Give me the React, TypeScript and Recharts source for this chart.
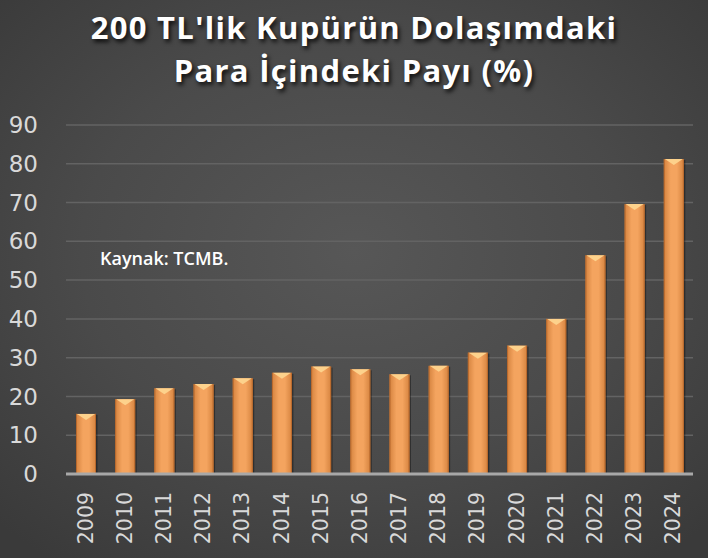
import React from "react";
import { BarChart, Bar, XAxis, YAxis, CartesianGrid } from "recharts";

const years = ["2009","2010","2011","2012","2013","2014","2015","2016","2017","2018","2019","2020","2021","2022","2023","2024"];
const shares = [15.5, 19.3, 22.1, 23.2, 24.7, 26.1, 27.7, 27.0, 25.7, 27.9, 31.3, 33.1, 40.0, 56.4, 69.6, 81.2];
const yTicks = [0, 10, 20, 30, 40, 50, 60, 70, 80, 90];
const titleLines = ["200 TL'lik Kupürün Dolaşımdaki", "Para İçindeki Payı (%)"];
const sourceNote = "Kaynak: TCMB.";

const data = years.map((y, i) => ({ year: y, value: shares[i] }));

const BevelBar = (props: any) => {
  const { x, y, width, height } = props;
  if (!height || height <= 0) return null;
  return (
    <g>
      <rect x={x + 1.5} y={y + 1} width={width} height={height - 1} fill="rgba(0,0,0,0.35)" />
      <rect x={x} y={y} width={width} height={height} fill="url(#barGrad)" />
      <polygon
        points={`${x + 1},${y} ${x + width - 1},${y} ${x + width / 2},${y + 6}`}
        fill="#fdd28c"
      />
      <rect x={x} y={y} width={1} height={height} fill="#b8692d" />
      <rect x={x + width - 1} y={y} width={1} height={height} fill="#b8692d" />
    </g>
  );
};

const XTick = (props: any) => {
  const { x, y, payload } = props;
  return (
    <text
      x={x}
      y={y}
      transform={`rotate(-90, ${x}, ${y})`}
      textAnchor="end"
      dominantBaseline="central"
      fill="#d9d9d9"
      fontSize={20.5}
      fontFamily="DejaVu Sans, sans-serif"
    >
      {payload.value}
    </text>
  );
};

export default function App() {
  return (
    <div
      style={{
        position: "absolute",
        left: 0,
        top: 0,
        width: 708,
        height: 558,
        overflow: "hidden",
        background: "radial-gradient(ellipse 70% 70% at 50% 45%, #575757 0%, #4a4a4a 55%, #3a3a3a 100%)",
      }}
    >
      <div
        style={{
          position: "absolute",
          left: 0,
          top: 6,
          width: 708,
          textAlign: "center",
          color: "#ffffff",
          fontFamily: "'Open Sans', sans-serif",
          fontWeight: 700,
          fontSize: 31,
          letterSpacing: 1.3,
          lineHeight: "43px",
          textShadow: "2px 3px 4px rgba(0,0,0,0.8)",
        }}
      >
        <div>{titleLines[0]}</div>
        <div>{titleLines[1]}</div>
      </div>
      <div
        style={{
          position: "absolute",
          left: 100,
          top: 246,
          color: "#ffffff",
          fontFamily: "'Open Sans', sans-serif",
          fontWeight: 600,
          fontSize: 18,
          lineHeight: "24px",
        }}
      >
        {sourceNote}
      </div>
      <div style={{ position: "absolute", left: 0, top: 0 }}>
        <BarChart
          width={708}
          height={558}
          data={data}
          margin={{ top: 125, right: 15, bottom: 0, left: 0 }}
          barSize={20}
        >
          <defs>
            <linearGradient id="barGrad" x1="0" y1="0" x2="1" y2="0">
              <stop offset="0%" stopColor="#d5833f" />
              <stop offset="35%" stopColor="#f4a45f" />
              <stop offset="65%" stopColor="#f4a45f" />
              <stop offset="100%" stopColor="#d5833f" />
            </linearGradient>
          </defs>
          <CartesianGrid vertical={false} stroke="#636363" strokeWidth={1.5} />
          <XAxis
            dataKey="year"
            interval={0}
            tickLine={false}
            axisLine={{ stroke: "#a8a8a8", strokeWidth: 3 }}
            tick={<XTick />}
            tickSize={0}
            tickMargin={18}
            height={84}
          />
          <YAxis
            width={66}
            domain={[0, 90]}
            ticks={yTicks}
            interval={0}
            axisLine={false}
            tickLine={false}
            tickSize={0}
            tickMargin={28}
            tick={{ fill: "#d9d9d9", fontSize: 23, fontFamily: "DejaVu Sans, sans-serif" }}
          />
          <Bar dataKey="value" isAnimationActive={false} shape={<BevelBar />} />
        </BarChart>
      </div>
    </div>
  );
}
